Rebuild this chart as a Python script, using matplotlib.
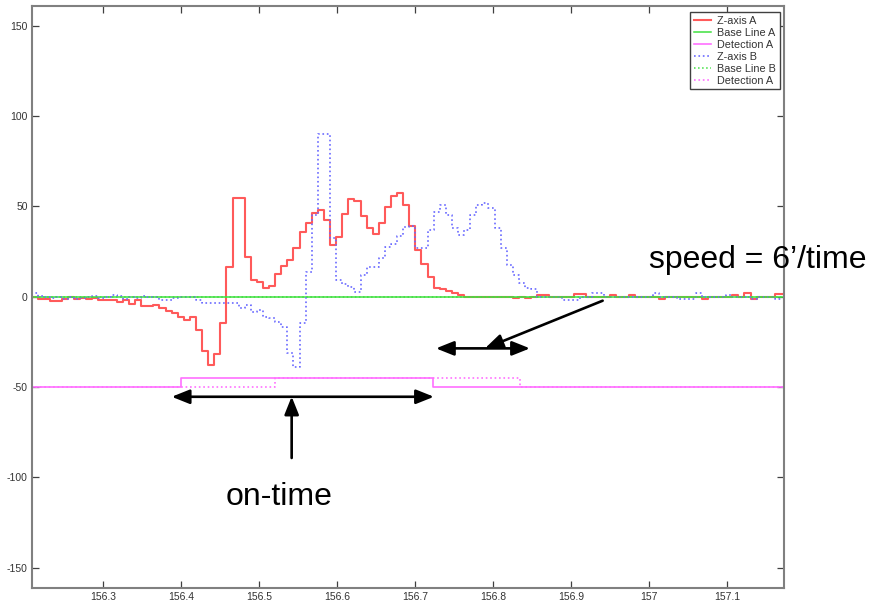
import matplotlib.pyplot as plt
import numpy as np

# sample grid of the accelerometer log (128 Hz)
T0 = 156.2078
DT = 1 / 128

z_axis_a = [
    0, -1.4, -1.4, -2.2, -2.2, -1, 0, -1, -0.5, -1,
    -0.5, -2, -2, -2, -3, -2, -4.3, -2, -5, -5,
    -4.6, -6.3, -7.9, -9, -11.2, -12.9, -11.2, -18.4, -30, -37.8,
    -31.7, -14.6, 16.4, 54.7, 54.7, 22, 9.2, 8.1, 4.8, 5.9,
    12.6, 17, 20.6, 27, 35.8, 40.8, 46.3, 48, 42.5, 28.6,
    33, 45.8, 54.1, 53, 44.7, 38, 34.7, 40.8, 49.7, 55.8,
    57.4, 50.8, 39.1, 25.9, 18.1, 10.9, 4.8, 4.3, 3.2, 2,
    0.9, 0, 0, 0, 0, 0, 0, 0, 0, -0.9,
    0, -0.9, 0, 1, 1, 0, 0, 0, 0, 1.5,
    1.5, 0, 0, 0, 0, 1, 0, 0, 1, 0,
    0, 0, 0, -1, 0, 0, 0, 0, 0, 0,
    -1, 0, 0, 0, 0, 1, 0, 2, -1, 0,
    0, 0, 1.5, 1.5, 1.5,
]

z_axis_b = [
    2, 0.5, 0, -0.5, 0, -1, 0, -1, -0.5, 0,
    0.5, -0.5, 0, 1, 0.5, -1, 0, -0.5, 0.5, 0,
    0, -1.8, -1.8, -0.7, 0, 0, 0, -1.8, -3.5, -3.5,
    -3.7, -3.7, -3.7, -3.7, -6.3, -4.6, -8.5, -7.4, -11.2, -11.8,
    -14, -16.7, -31, -38.8, -14.6, 13.7, 45.2, 90, 90, 32.4,
    9.4, 7.2, 5.4, 2.6, 12, 16.4, 16.4, 21.4, 27.5, 29.2,
    33.6, 38.6, 39.1, 27, 27, 37, 47, 50.9, 45, 38,
    34, 37, 45, 51, 52, 49, 38, 27, 17.6, 12,
    7.6, 4.8, 4.3, 0, 0, 0, 0, -1.8, -1.8, -1.8,
    0, 0, 2, 2, 0, 0, 0, 0, 0, 0,
    0, 0, 2, 0, 0, 0, -1, -1, -1, 2,
    0, 0, 0, 0, 1, 0, 0, 0, -1, 0,
    0, 0, -1, -1, -1,
]

base_line_a = 0.0
base_line_b = 0.0

det_a_times = [156.2078, 156.3995, 156.7224, 157.18]
det_a_levels = [-50, -45, -50, -50]
det_b_times = [156.2078, 156.5200, 156.8340, 157.18]
det_b_levels = [-50, -45, -50, -50]

xticks = [156.3, 156.4, 156.5, 156.6, 156.7, 156.8, 156.9, 157.0, 157.1]
xtick_labels = ["156.3", "156.4", "156.5", "156.6", "156.7", "156.8", "156.9", "157", "157.1"]
yticks = [-150, -100, -50, 0, 50, 100, 150]

RED = "#ff5a5a"
GREEN = "#3fe03f"
MAGENTA = "#ff70ff"
BLUE = "#6a6aff"
TICK_FONT = ["Liberation Sans Narrow", "Liberation Sans", "DejaVu Sans"]
TEXT_FONT = ["Liberation Sans", "DejaVu Sans"]

plt.rcParams["axes.unicode_minus"] = False


def detection_plot(filename):
    t = T0 + np.arange(len(z_axis_a)) * DT
    t_end = [t[0], 157.18]

    fig = plt.figure(figsize=(8.72, 6.05), dpi=100)
    ax = fig.add_axes([32 / 872, 17 / 605, 752 / 872, 582 / 605])

    ax.plot(t, z_axis_a, drawstyle="steps-post", color=RED, lw=1.5, label="Z-axis A")
    ax.plot(t_end, [base_line_a] * 2, color=GREEN, lw=1.1, label="Base Line A")
    ax.plot(det_a_times, det_a_levels, drawstyle="steps-post", color=MAGENTA, lw=1.2,
            label="Detection A")
    ax.plot(t, z_axis_b, drawstyle="steps-post", color=BLUE, lw=1.2, ls=":", label="Z-axis B")
    ax.plot(t_end, [base_line_b] * 2, color=GREEN, lw=1.1, ls=":", label="Base Line B")
    ax.plot(det_b_times, det_b_levels, drawstyle="steps-post", color=MAGENTA, lw=1.2, ls=":",
            label="Detection A")

    ax.set_xlim(156.2085, 157.1726)
    ax.set_ylim(-161.3, 161)
    ax.set_xticks(xticks)
    ax.set_xticklabels(xtick_labels)
    ax.set_yticks(yticks)
    ax.tick_params(direction="in", length=5, width=0.9, top=True, right=True,
                   color="#404040", labelcolor="#333333", labelsize=7.5, pad=3)
    for lab in ax.get_xticklabels() + ax.get_yticklabels():
        lab.set_family(TICK_FONT)
    for sp in ax.spines.values():
        sp.set_color("#808080")
        sp.set_linewidth(1.5)

    leg = ax.legend(loc="upper right", bbox_to_anchor=(0.9947, 0.9897), borderaxespad=0,
                    fancybox=False, framealpha=1, edgecolor="#404040",
                    prop={"family": TICK_FONT, "size": 7.8},
                    handlelength=1.6, handletextpad=0.6, labelspacing=0.18, borderpad=0.35)
    leg.get_frame().set_linewidth(1.0)
    for txt in leg.get_texts():
        txt.set_color("#333333")

    # annotations: on-time span and speed span
    head = dict(arrowstyle="<|-|>,head_length=0.9,head_width=0.36", mutation_scale=12,
                color="black", lw=1.9, shrinkA=0, shrinkB=0)
    single = dict(arrowstyle="-|>,head_length=0.9,head_width=0.36", mutation_scale=12,
                  color="black", lw=1.9, shrinkA=0, shrinkB=0)
    ax.annotate("", xy=(156.7238, -55.4), xytext=(156.3876, -55.4), arrowprops=head,
                annotation_clip=False)
    ax.annotate("", xy=(156.5414, -55.3), xytext=(156.5414, -89.3), arrowprops=single,
                annotation_clip=False)
    ax.annotate("", xy=(156.8469, -28.6), xytext=(156.7264, -28.6), arrowprops=head,
                annotation_clip=False)
    ax.annotate("", xy=(156.7892, -28.6), xytext=(156.9401, -2.2), arrowprops=single,
                annotation_clip=False)

    ax.text(156.4572, -115.3, "on-time", fontsize=23, family=TEXT_FONT,
            ha="left", va="baseline", clip_on=False)
    ax.text(156.9995, 15.9, "speed = 6\u2019/time", fontsize=23, family=TEXT_FONT,
            ha="left", va="baseline", clip_on=False)

    fig.savefig(filename, dpi=100)


if __name__ == "__main__":
    detection_plot("out.png")
